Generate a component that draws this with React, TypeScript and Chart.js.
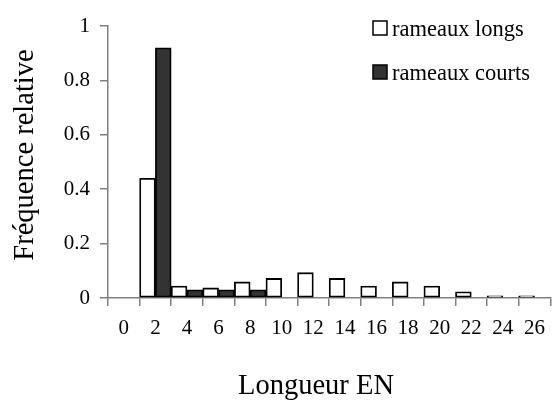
import React, { useEffect, useRef } from "react";
import { Chart, registerables } from "chart.js";

Chart.register(...registerables);

const categories = ["0", "2", "4", "6", "8", "10", "12", "14", "16", "18", "20", "22", "24", "26"];
const rameauxLongs = [0, 0.44, 0.044, 0.037, 0.059, 0.072, 0.093, 0.072, 0.044, 0.059, 0.044, 0.023, 0.008, 0.008];
const rameauxCourts = [0, 0.92, 0.03, 0.03, 0.03, 0, 0, 0, 0, 0, 0, 0, 0, 0];
const seriesNames = ["rameaux longs", "rameaux courts"];
const yTicks = [0, 0.2, 0.4, 0.6, 0.8, 1];
const xTitle = "Longueur EN";
const yTitle = "Fréquence relative";

const FONT = "'Liberation Serif', 'Times New Roman', serif";

const decorPlugin = {
  id: "decor",
  afterDraw(chart: any) {
    const ctx = chart.ctx;
    ctx.save();
    // legend
    const rows = [28, 72];
    const baselines = [36, 80];
    chart.data.datasets.forEach((ds: any, i: number) => {
      const y = rows[i];
      ctx.fillStyle = ds.backgroundColor;
      ctx.fillRect(373, y - 7, 14, 14);
      ctx.strokeStyle = "#000";
      ctx.lineWidth = 1.5;
      ctx.strokeRect(373, y - 7, 14, 14);
      ctx.fillStyle = "#000";
      ctx.font = `22.5px ${FONT}`;
      ctx.textBaseline = "alphabetic";
      ctx.textAlign = "left";
      ctx.fillText(ds.label, 392, baselines[i]);
    });
    // axis titles
    ctx.fillStyle = "#000";
    ctx.font = `28.5px ${FONT}`;
    ctx.textAlign = "center";
    ctx.textBaseline = "alphabetic";
    ctx.fillText(xTitle, 316, 394);
    ctx.translate(26, 155);
    ctx.rotate(-Math.PI / 2);
    ctx.textBaseline = "middle";
    ctx.fillText(yTitle, 0, 0);
    ctx.restore();
  },
};

export default function App() {
  const ref = useRef<HTMLCanvasElement | null>(null);
  useEffect(() => {
    if (!ref.current) return;
    const chart = new Chart(ref.current, {
      type: "bar",
      data: {
        labels: categories,
        datasets: [
          {
            label: seriesNames[0],
            data: rameauxLongs,
            backgroundColor: "#ffffff",
            borderColor: "#000000",
            borderWidth: 1.8,
            borderSkipped: false,
            barPercentage: 1,
            categoryPercentage: 1,
          },
          {
            label: seriesNames[1],
            data: rameauxCourts,
            backgroundColor: "#333333",
            borderColor: "#000000",
            borderWidth: 1.8,
            borderSkipped: false,
            barPercentage: 1,
            categoryPercentage: 1,
          },
        ],
      },
      options: {
        responsive: false,
        animation: false,
        layout: { padding: { top: 26, right: 1, left: 0, bottom: 0 } },
        plugins: { legend: { display: false }, tooltip: { enabled: false } },
        scales: {
          x: {
            offset: true,
            grid: { offset: true, drawOnChartArea: false, drawTicks: true, tickLength: 8, color: "#808080", lineWidth: 1.5 },
            border: { color: "#808080", width: 1.5 },
            ticks: { color: "#000", font: { family: FONT, size: 21 }, padding: 10, maxRotation: 0, autoSkip: false },
            title: { display: false },
            afterFit(scale: any) { scale.height = 106; },
          },
          y: {
            min: 0,
            max: 1,
            afterBuildTicks(scale: any) { scale.ticks = yTicks.map((v) => ({ value: v })); },
            grid: { drawOnChartArea: false, drawTicks: true, tickLength: 8, color: "#808080", lineWidth: 1.5 },
            border: { color: "#808080", width: 1.5 },
            ticks: { color: "#000", font: { family: FONT, size: 21 }, padding: 10, callback: (v: any) => String(Number(v)) },
            title: { display: false },
            afterFit(scale: any) { scale.width = 108; },
          },
        },
      },
      plugins: [decorPlugin],
    });
    return () => chart.destroy();
  }, []);
  return (
    <div style={{ position: "fixed", left: 0, top: 0, width: 555, height: 404, background: "#fff" }}>
      <canvas ref={ref} width={555} height={404} />
    </div>
  );
}
